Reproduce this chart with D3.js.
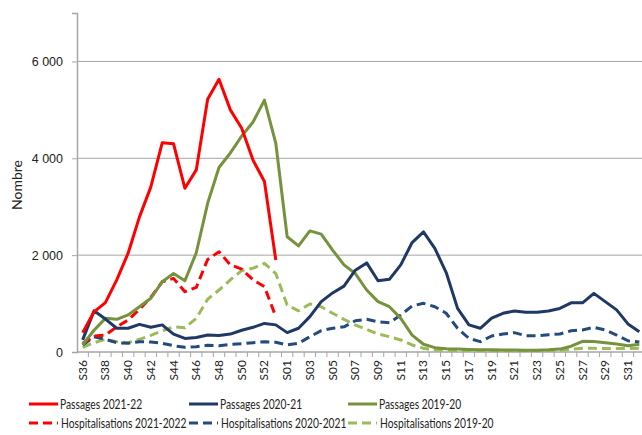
<!DOCTYPE html>
<html lang="fr">
<head>
<meta charset="UTF-8">
<script src="https://d3js.org/d3.v7.min.js"></script>
<style>
  body { margin: 0; background: #fff; }
  svg { font-family: Lato, "Liberation Sans", Arial, sans-serif; }
</style>
</head>
<body>
<svg id="canvas"></svg>
<script>
// semaines S36..S53 puis S01..S32
let weeks = []
for (let w = 36; w <= 53; w++) weeks.push('S' + w)
for (let w = 1; w <= 32; w++) weeks.push('S' + String(w).padStart(2, '0'))

let yTicks = [0, 2000, 4000, 6000]

// Passages 2021-22 (jusqu'a S53)
let pass2122 = [400, 830, 1020, 1490, 2040, 2790, 3410, 4320, 4300, 3380, 3760, 5220, 5630, 5000, 4620, 3960, 3520, 1900]
// Hospitalisations 2021-2022
let hosp2122 = [180, 330, 350, 520, 660, 880, 1130, 1450, 1520, 1245, 1335, 1910, 2070, 1800, 1710, 1490, 1350, 730]
// Passages 2020-21
let pass2021 = [250, 850, 680, 490, 490, 570, 510, 560, 370, 280, 300, 350, 340, 370, 450, 510, 590, 560,
  400, 490, 730, 1040, 1220, 1360, 1690, 1840, 1470, 1500, 1800, 2260, 2480, 2140, 1640, 900, 560, 490,
  700, 800, 846, 820, 820, 846, 900, 1015, 1015, 1210, 1040, 870, 580, 420]
// Hospitalisations 2020-2021
let hosp2021 = [145, 316, 262, 192, 180, 213, 206, 180, 130, 97, 110, 138, 130, 159, 171, 192, 213, 200,
  145, 180, 316, 440, 490, 520, 645, 675, 625, 605, 765, 950, 1005, 935, 800, 490, 282, 213,
  330, 370, 400, 337, 337, 357, 371, 440, 454, 510, 454, 351, 233, 206]
// Passages 2019-20
let pass1920 = [150, 450, 695, 675, 765, 935, 1110, 1450, 1620, 1470, 2050, 3070, 3810, 4110, 4460, 4750, 5200, 4310,
  2380, 2190, 2500, 2435, 2105, 1800, 1620, 1280, 1040, 935, 695, 350, 160, 90, 68, 60, 50, 45,
  45, 42, 40, 38, 38, 45, 60, 120, 220, 216, 192, 165, 130, 159]
// Hospitalisations 2019-20
let hosp1920 = [97, 192, 262, 213, 192, 262, 344, 440, 520, 500, 695, 1090, 1280, 1490, 1680, 1730, 1830, 1620,
  970, 850, 990, 935, 800, 675, 557, 468, 371, 316, 248, 145, 76, 40, 35, 30, 30, 28,
  28, 28, 28, 28, 28, 30, 40, 55, 76, 76, 70, 70, 72, 76]

let series = [
  { name: 'Passages 2021-22', values: pass2122, color: '#ff0000', dash: null },
  { name: 'Passages 2020-21', values: pass2021, color: '#1f3864', dash: null },
  { name: 'Passages 2019-20', values: pass1920, color: '#76923c', dash: null },
  { name: 'Hospitalisations 2021-2022', values: hosp2122, color: '#ff0000', dash: '9,5' },
  { name: 'Hospitalisations 2020-2021', values: hosp2021, color: '#254b7e', dash: '9,5' },
  { name: 'Hospitalisations 2019-20', values: hosp1920, color: '#9bbb59', dash: '9,5' }
]

let width = 642
let height = 435

let canvas = d3.select('#canvas')
canvas.attr('width', width).attr('height', height)

let xScale = d3.scaleBand()
  .domain(weeks)
  .range([77, 77 + weeks.length * 11.36])

let yScale = d3.scaleLinear()
  .domain([0, 7000])
  .range([352, 13])

let fmt = (d) => d3.format(',')(d).replace(',', ' ')

// grille
canvas.append('g')
  .selectAll('line')
  .data(yTicks.slice(1))
  .enter()
  .append('line')
  .attr('x1', 77).attr('x2', width)
  .attr('y1', d => yScale(d)).attr('y2', d => yScale(d))
  .attr('stroke', '#a6a6a6').attr('stroke-width', 1)

// axe y
let yAxis = d3.axisLeft(yScale).tickValues(yTicks).tickFormat(fmt).tickSize(5).tickPadding(9)
let gy = canvas.append('g')
  .attr('transform', 'translate(77,0)')
  .call(yAxis)
gy.select('.domain').attr('stroke', '#a6a6a6').attr('stroke-width', 1.5)
gy.selectAll('.tick line').attr('stroke', '#a6a6a6')
gy.selectAll('text').attr('font-size', 12.5).attr('fill', '#222')

canvas.append('text')
  .attr('transform', 'translate(22,185) rotate(-90)')
  .attr('text-anchor', 'middle')
  .attr('font-size', 14)
  .attr('fill', '#222')
  .text('Nombre')

// axe x
let gx = canvas.append('g').attr('transform', 'translate(0,352)')
gx.append('line')
  .attr('x1', 77).attr('x2', width)
  .attr('stroke', '#a6a6a6').attr('stroke-width', 1.5)
gx.selectAll('.tk')
  .data(weeks)
  .enter()
  .append('line')
  .attr('class', 'tk')
  .attr('x1', d => xScale(d) + xScale.bandwidth())
  .attr('x2', d => xScale(d) + xScale.bandwidth())
  .attr('y1', 0).attr('y2', 5)
  .attr('stroke', '#a6a6a6')
gx.selectAll('.lbl')
  .data(weeks.filter((d, i) => i % 2 === 0))
  .enter()
  .append('text')
  .attr('class', 'lbl')
  .attr('transform', d => 'translate(' + (xScale(d) + xScale.bandwidth() / 2 + 4) + ',8) rotate(-90)')
  .attr('text-anchor', 'end')
  .attr('font-size', 12)
  .attr('fill', '#222')
  .text(d => d)

// courbes
let line = d3.line()
  .x((d, i) => xScale(weeks[i]) + xScale.bandwidth() / 2)
  .y(d => yScale(d))

let order = [5, 4, 3, 2, 1, 0]
order.forEach(k => {
  let s = series[k]
  canvas.append('path')
    .datum(s.values)
    .attr('d', line)
    .attr('fill', 'none')
    .attr('stroke', s.color)
    .attr('stroke-width', 3)
    .attr('stroke-linejoin', 'round')
    .attr('stroke-dasharray', s.dash)
})

// legende (police etroite simulee : scale horizontal)
let legX = [29, 189, 348]
let legY = [404, 423]
series.forEach((s, i) => {
  let col = i % 3
  let row = Math.floor(i / 3)
  let g = canvas.append('g').attr('transform', 'translate(' + legX[col] + ',' + legY[row] + ')')
  g.append('line')
    .attr('x1', 0).attr('x2', 29)
    .attr('stroke', s.color).attr('stroke-width', 3)
    .attr('stroke-dasharray', s.dash)
  g.append('text')
    .attr('transform', 'translate(' + (s.dash ? 32 : 31) + ',5) scale(0.76,1)')
    .attr('font-size', 13.5)
    .attr('fill', '#222')
    .text(s.name)
})
</script>
</body>
</html>
